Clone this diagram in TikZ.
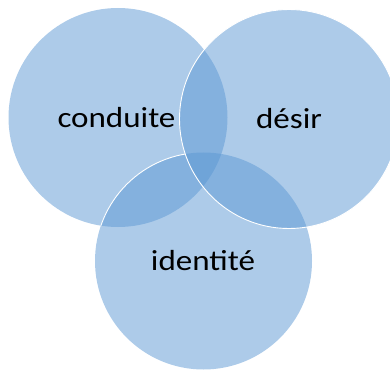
\documentclass[tikz,border=0pt]{standalone}
\usepackage{fontspec}
\setmainfont{Carlito}
\definecolor{vennblue}{RGB}{91,151,211}
\tikzset{
  venn/.style={fill=vennblue, fill opacity=0.5},
  rim/.style={draw=white, line width=0.9pt},
  lab/.style={anchor=base, inner sep=0pt, font=\fontsize{29}{34}\selectfont, text=black}
}
\newcommand{\hstretch}[1]{\scalebox{1.14}[1]{#1}}
\begin{document}
\begin{tikzpicture}[x=1pt,y=-1pt]
\useasboundingbox (0,0) rectangle (390,371);
\coordinate (cL) at (118,117.5);
\coordinate (cR) at (289,119);
\coordinate (cB) at (203.5,261);
% fills
\path[venn] (cL) circle[radius=109.5];
\path[venn] (cB) circle[radius=108.5];
\path[venn] (cR) circle[radius=109.5];
% white rim of bottom circle, visible only inside the left circle and outside the right one
\begin{scope}
  \clip (cL) circle[radius=109.5];
  \begin{scope}[even odd rule]
    \clip (cR) circle[radius=109.5] (-20,-20) rectangle (420,400);
    \path[rim] (cB) circle[radius=108.5];
  \end{scope}
\end{scope}
% white rim of right circle
\path[rim] (cR) circle[radius=109.5];
% labels
\node[lab] (conduite) at (116.5,127.3) {\hstretch{conduite}};
\node[lab] (desir) at (289,128.5) {\hstretch{désir}};
\node[lab] (identite) at (203,270) {\hstretch{identité}};
\end{tikzpicture}
\end{document}
